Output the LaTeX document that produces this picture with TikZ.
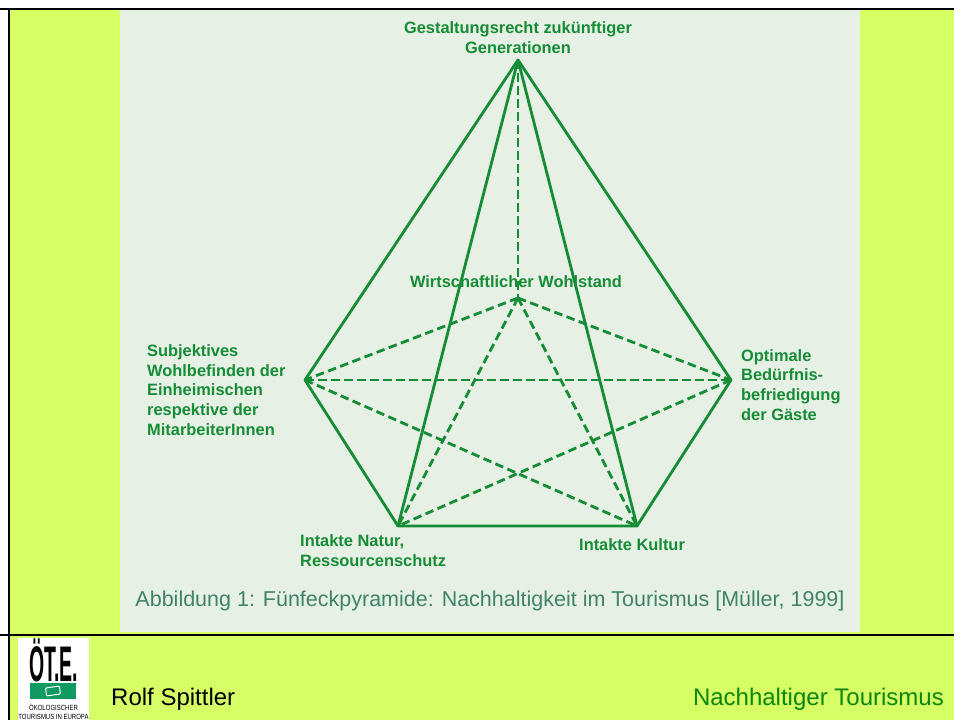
\documentclass[tikz,border=0pt]{standalone}
\usepackage{fontspec}
\setmainfont{Liberation Sans}
\definecolor{lime}{HTML}{D6FF66}
\definecolor{pale}{HTML}{E6F0E4}
\definecolor{edgegreen}{HTML}{158C36}
\definecolor{captiongreen}{HTML}{3F8368}
\definecolor{footgreen}{HTML}{0C860C}
\definecolor{logogreen}{HTML}{109A62}
\tikzset{
  solidedge/.style={draw=edgegreen, line width=2.8pt, line join=round},
  dashedge/.style={draw=edgegreen, line width=2.8pt, dash pattern=on 8.5pt off 4.5pt},
  vertexlabel/.style={text=edgegreen, font=\fontsize{16.4}{19.8}\selectfont\bfseries, inner sep=0pt},
  blackrule/.style={draw=black, line width=2pt}
}
\begin{document}
\begin{tikzpicture}[x=1pt,y=-1pt]
  \useasboundingbox (0,0) rectangle (954,720);
  \fill[white] (0,0) rectangle (954,720);
  \fill[lime] (9,9) rectangle (954,720);
  \fill[pale] (120,10) rectangle (860,632);
  \draw[blackrule] (0,9) -- (954,9);
  \draw[blackrule] (8.5,9) -- (8.5,720);
  \draw[blackrule] (0,634.5) -- (954,634.5);

  \coordinate (apex)  at (518,60);
  \coordinate (left)  at (305,380);
  \coordinate (right) at (731,380);
  \coordinate (natur) at (398,526);
  \coordinate (kultur) at (637,526);
  \coordinate (back)  at (518,298);

  \path[solidedge] (apex) -- (left) -- (natur) -- (kultur) -- (right) -- cycle;
  \path[solidedge] (apex) -- (natur);
  \path[solidedge] (apex) -- (kultur);

  \path[dashedge] (apex) -- (back);
  \path[dashedge] (back) -- (left);
  \path[dashedge] (back) -- (right);
  \path[dashedge] (back) -- (natur);
  \path[dashedge] (back) -- (kultur);
  \path[dashedge] (left) -- (right);
  \path[dashedge] (left) -- (kultur);
  \path[dashedge] (right) -- (natur);

  \node[vertexlabel, align=center] (lapex) at (518,38) {Gestaltungsrecht zukünftiger\\Generationen};
  \node[vertexlabel] (lback) at (516,282) {Wirtschaftlicher Wohlstand};
  \node[vertexlabel, align=left, anchor=west] (lleft) at (147,390) {Subjektives\\Wohlbefinden der\\Einheimischen\\respektive der\\MitarbeiterInnen};
  \node[vertexlabel, align=left, anchor=west] (lright) at (741,385) {Optimale\\Bedürfnis-\\befriedigung\\der Gäste};
  \node[vertexlabel, align=left, anchor=west] (lnatur) at (300,551) {Intakte Natur,\\Ressourcenschutz};
  \node[vertexlabel, anchor=west] (lkultur) at (579,545) {Intakte Kultur};
  \node[text=captiongreen, font=\fontsize{21.5}{24}\selectfont, inner sep=0pt] (caption) at (490,601) {Abbildung 1: Fünfeckpyramide: Nachhaltigkeit im Tourismus [Müller, 1999]};

  % logo
  \fill[white] (18,638) rectangle (89,720);
  \node[font=\fontsize{50}{50}\selectfont\bfseries, xscale=.39, inner sep=0pt] (logoname) at (53.5,660.5) {ÖT.E.};
  \fill[logogreen] (30,683) rectangle (76,699);
  \draw[white, line width=1pt, rounded corners=1pt, rotate around={8:(53,691)}] (46,687) rectangle (60,695);
  \node[font=\fontsize{7.5}{9}\selectfont, align=center, inner sep=0pt, xscale=.8] (logotext) at (53.5,711.5) {ÖKOLOGISCHER\\TOURISMUS IN EUROPA};

  % footer
  \node[font=\fontsize{24}{26}\selectfont, anchor=base west, inner sep=0pt] (author) at (111,705) {Rolf Spittler};
  \node[text=footgreen, font=\fontsize{24}{26}\selectfont, anchor=base east, inner sep=0pt] (topic) at (944,705) {Nachhaltiger Tourismus};
\end{tikzpicture}
\end{document}
